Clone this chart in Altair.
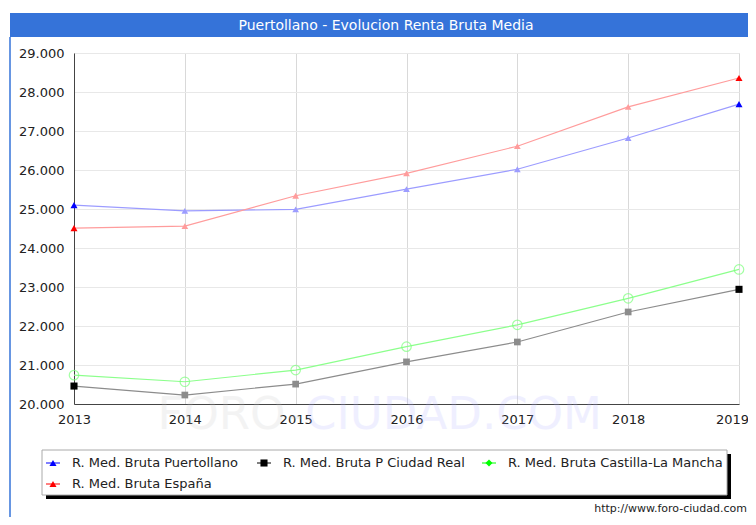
import altair as alt
import pandas as pd

years = [2013, 2014, 2015, 2016, 2017, 2018, 2019]
puertollano = [25100, 24950, 24990, 25510, 26020, 26820, 27690]
ciudad_real = [20460, 20230, 20510, 21080, 21590, 22360, 22940]
castilla_lm = [20740, 20570, 20870, 21470, 22030, 22710, 23450]
espana = [24510, 24560, 25340, 25915, 26610, 27620, 28360]

series_names = [
    "R. Med. Bruta Puertollano",
    "R. Med. Bruta P Ciudad Real",
    "R. Med. Bruta Castilla-La Mancha",
    "R. Med. Bruta España",
]
series_values = [puertollano, ciudad_real, castilla_lm, espana]
y_ticks = [20000, 21000, 22000, 23000, 24000, 25000, 26000, 27000, 28000, 29000]

full_colors = ["#0000ff", "#000000", "#00ff00", "#ff0000"]
light_colors = ["#9c9cff", "#8c8c8c", "#8cff8c", "#ff9c9c"]
shapes = ["triangle-up", "square", "diamond", "triangle-up"]

rows = []
for name, vals in zip(series_names, series_values):
    for yr, v in zip(years, vals):
        rows.append({"year": yr, "serie": name, "value": v})
df = pd.DataFrame(rows)

FONT = "DejaVu Sans"
one = pd.DataFrame({"a": [0]})

x_enc = alt.X(
    "year:Q",
    scale=alt.Scale(domain=[2013, 2019], nice=False),
    axis=alt.Axis(
        values=years, format="d", title=None, labelFont=FONT, labelFontSize=13,
        labelColor="#222222", ticks=False, labelPadding=9, gridColor="#d9d9d9",
        domainColor="#444444", labelFlush=False,
        labelOffset={"condition": {"test": "datum.value == 2019", "value": -7}, "value": 0},
    ),
)
y_enc = alt.Y(
    "value:Q",
    scale=alt.Scale(domain=[20000, 29000], nice=False, zero=False),
    axis=alt.Axis(
        values=y_ticks, title=None, labelFont=FONT, labelFontSize=13,
        labelColor="#222222", ticks=False, labelPadding=10, gridColor="#e8e8e8",
        domainColor="#444444",
        labelExpr="replace(format(datum.value, ',.0f'), ',', '.')",
    ),
)

base = alt.Chart(df)


def txt(t, x, y, size, color, align="left", font=FONT, opacity=1.0):
    return alt.Chart(pd.DataFrame({"t": [t]})).mark_text(
        color=color, font=font, fontSize=size, align=align, baseline="middle", opacity=opacity
    ).encode(text="t:N", x=alt.value(x), y=alt.value(y))


# decorative layers (pixel positions relative to the plot origin)
title_bar = alt.Chart(one).mark_rect(color="#3573d9").encode(
    x=alt.value(-64), x2=alt.value(700), y=alt.value(-40), y2=alt.value(-16)
)
title_text = txt("Puertollano - Evolucion Renta Bruta Media", 312, -27, 14, "white", "center")
left_line = alt.Chart(one).mark_rule(color="#3573d9", strokeWidth=1.5).encode(
    x=alt.value(-64), y=alt.value(-16), y2=alt.value(480)
)
wm1 = txt("FORO-", 229, 362, 45, "#c8c8c8", "right", opacity=0.2)
wm2 = txt("CIUDAD.COM", 231, 362, 45, "#b4b4ff", "left", opacity=0.2)
shadow = alt.Chart(one).mark_rect(color="#000000").encode(
    x=alt.value(-28), x2=alt.value(657), y=alt.value(401), y2=alt.value(446)
)
legend_box = alt.Chart(one).mark_rect(fill="white", stroke="#aaaaaa", strokeWidth=1).encode(
    x=alt.value(-32), x2=alt.value(653), y=alt.value(397), y2=alt.value(442)
)
footer = txt("http://www.foro-ciudad.com", 673, 456, 11, "#222222", "right")

legend_pos = [(-21, 410), (190, 410), (415, 410), (-21, 431)]
legend_layers = []
for name, col, shp, (lx, ly) in zip(series_names, full_colors, shapes, legend_pos):
    legend_layers.append(
        alt.Chart(one).mark_rule(color=col, strokeWidth=1).encode(
            x=alt.value(lx - 7), x2=alt.value(lx + 7), y=alt.value(ly)
        )
    )
    legend_layers.append(
        alt.Chart(one).mark_point(filled=True, shape=shp, size=50, color=col, opacity=1).encode(
            x=alt.value(lx), y=alt.value(ly)
        )
    )
    legend_layers.append(txt(name, lx + 19, ly, 13, "#222222"))

lines = base.mark_line(strokeWidth=1.2).encode(
    x=x_enc, y=y_enc,
    color=alt.Color("serie:N", scale=alt.Scale(domain=series_names, range=light_colors), legend=None),
)
non_green = alt.datum.serie != series_names[2]
mid_points = base.transform_filter(non_green).transform_filter(
    (alt.datum.year != 2013) & (alt.datum.year != 2019)
).mark_point(filled=True, size=45, opacity=1).encode(
    x=x_enc, y=y_enc,
    color=alt.Color("serie:N", scale=alt.Scale(domain=series_names, range=light_colors), legend=None),
    shape=alt.Shape("serie:N", scale=alt.Scale(domain=series_names, range=shapes), legend=None),
)
end_points = base.transform_filter(non_green).transform_filter(
    (alt.datum.year == 2013) | (alt.datum.year == 2019)
).mark_point(filled=True, size=50, opacity=1).encode(
    x=x_enc, y=y_enc,
    color=alt.Color("serie:N", scale=alt.Scale(domain=series_names, range=full_colors), legend=None),
    shape=alt.Shape("serie:N", scale=alt.Scale(domain=series_names, range=shapes), legend=None),
)
green_points = base.transform_filter(alt.datum.serie == series_names[2]).mark_point(
    filled=False, size=90, color="#7dff7d", strokeWidth=1.2, shape="circle"
).encode(x=x_enc, y=y_enc)

chart = alt.layer(
    title_bar, title_text, left_line, wm1, wm2, shadow, legend_box, footer,
    *legend_layers,
    lines, mid_points, green_points, end_points,
).resolve_scale(color="independent", shape="independent").properties(
    width=665, height=351,
    autosize=alt.AutoSizeParams(type="none"),
    padding={"left": 66, "top": 45, "right": 9, "bottom": 113},
).configure_view(stroke="#444444", strokeWidth=1).configure(background="white")

chart.save("out.html", embed_options={"renderer": "svg", "actions": False})
